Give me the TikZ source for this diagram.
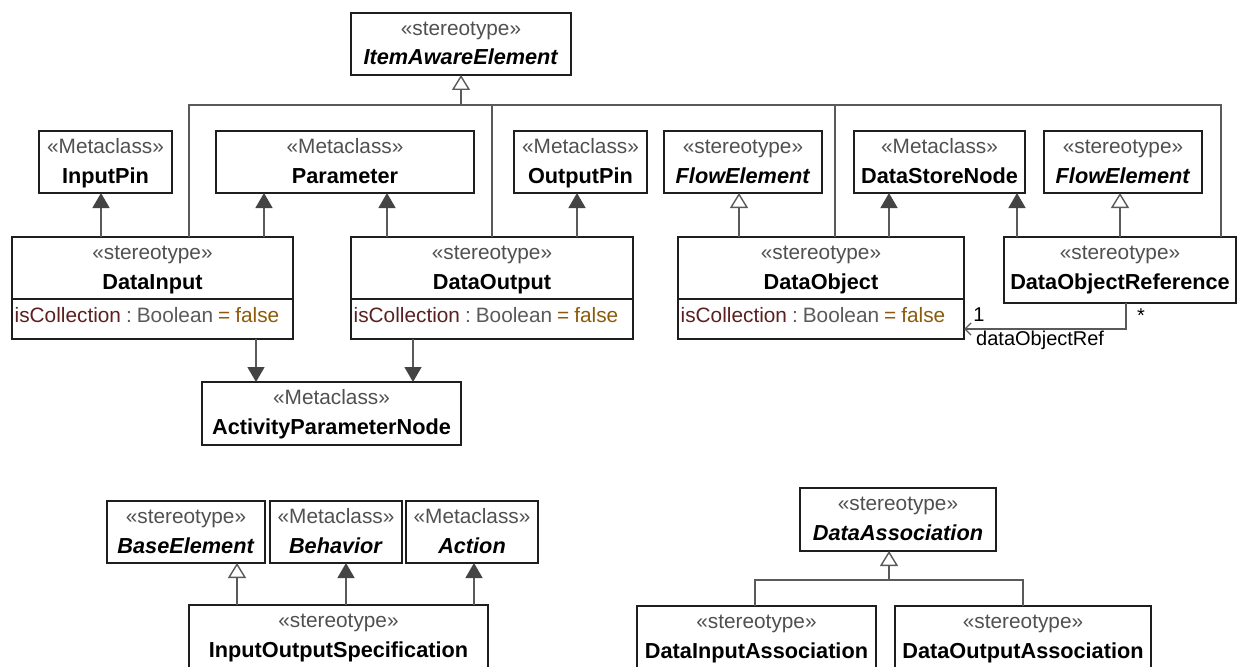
\documentclass[tikz,border=0pt]{standalone}
\usepackage{fontspec}
\setmainfont{Liberation Sans}
\usetikzlibrary{arrows.meta}

\definecolor{stgray}{RGB}{80,80,80}
\definecolor{linegray}{RGB}{90,90,90}
\definecolor{headgray}{RGB}{68,68,68}
\definecolor{boxline}{RGB}{30,30,30}
\definecolor{attrname}{RGB}{92,32,32}
\definecolor{attrtype}{RGB}{90,90,90}
\definecolor{attrval}{RGB}{140,90,10}

\tikzset{
  clsbox/.style={draw=boxline, line width=1.5pt, fill=white, inner sep=0pt, outer sep=0pt},
  stereo/.style={font=\fontsize{20.8}{25}\selectfont, text=stgray, anchor=base, inner sep=0pt},
  cname/.style={font=\fontsize{21.7}{26}\selectfont\bfseries, anchor=base, inner sep=0pt},
  attr/.style={font=\fontsize{20.8}{25}\selectfont, anchor=base west, inner sep=0pt},
  lbl/.style={font=\fontsize{20}{24}\selectfont, inner sep=0pt},
  conn/.style={draw=linegray, line width=1.4pt},
  ext/.style={conn, -{Triangle[width=17pt,length=15pt,fill=headgray,color=headgray]}},
  gen/.style={conn, -{Triangle[open,width=18pt,length=15pt,fill=white]}},
  assoc/.style={conn, -{Straight Barb[length=6pt,width=12pt]}},
}

% class box: name, x1, y1, x2, y2, stereotype, class name
\newcommand\umlclass[7]{%
  \node[clsbox, minimum width={(#4)-(#2)}, minimum height={(#5)-(#3)}]
    (#1) at ({((#2)+(#4))/2},{((#3)+(#5))/2}) {};
  \node[stereo] (#1-st) at ([yshift=-22.5pt]#1.north) {«#6»};
  \node[cname] (#1-nm) at ([yshift=-52pt]#1.north) {#7};}

% attribute compartment below the name part
\newcommand\umlattr[1]{%
  \draw[boxline, line width=1.5pt] ([yshift=-62pt]#1.north west) -- ([yshift=-62pt]#1.north east);
  \node[attr] (#1-at) at ([xshift=2.5pt,yshift=-85pt]#1.north west)
    {\textcolor{attrname}{isCollection}\hspace{5pt}\textcolor{attrtype}{:\hspace{5pt}Boolean}\hspace{5pt}\textcolor{attrval}{=\hspace{5pt}false}};}

\begin{document}
\begin{tikzpicture}[x=1pt, y=-1pt]
\useasboundingbox (0,0) rectangle (1238,666);
\fill[white] (0,0) rectangle (1238,666);
\clip (0,0) rectangle (1238,666);

% ---- classes ----
\umlclass{iae}{351}{13}{571}{75}{stereotype}{\textit{ItemAwareElement}}
\umlclass{ip}{39}{131}{172}{193}{Metaclass}{InputPin}
\umlclass{par}{216}{131}{474}{193}{Metaclass}{Parameter}
\umlclass{op}{514}{131}{647}{193}{Metaclass}{OutputPin}
\umlclass{fea}{664}{131}{822}{193}{stereotype}{\textit{FlowElement}}
\umlclass{dsn}{854}{131}{1025}{193}{Metaclass}{DataStoreNode}
\umlclass{feb}{1044}{131}{1202}{193}{stereotype}{\textit{FlowElement}}

\umlclass{din}{12}{237}{293}{339}{stereotype}{DataInput}
\umlattr{din}
\umlclass{dout}{351}{237}{633}{339}{stereotype}{DataOutput}
\umlattr{dout}
\umlclass{dobj}{678}{237}{964}{339}{stereotype}{DataObject}
\umlattr{dobj}
\umlclass{dref}{1004}{237}{1236}{303}{stereotype}{DataObjectReference}

\umlclass{apn}{202}{382}{461}{445}{Metaclass}{ActivityParameterNode}

\umlclass{be}{107}{501}{265}{563}{stereotype}{\textit{BaseElement}}
\umlclass{beh}{270}{501}{402}{563}{Metaclass}{\textit{Behavior}}
\umlclass{act}{406}{501}{538}{563}{Metaclass}{\textit{Action}}
\umlclass{ios}{189}{605}{488}{700}{stereotype}{InputOutputSpecification}

\umlclass{da}{800}{488}{996}{551}{stereotype}{\textit{DataAssociation}}
\umlclass{dia}{637}{606}{876}{700}{stereotype}{DataInputAssociation}
\umlclass{doa}{895}{606}{1151}{700}{stereotype}{DataOutputAssociation}

% ---- generalization tree to ItemAwareElement ----
\coordinate (gj) at (iae.south |- 0,105);
\draw[conn] (din.north -| 189,0) |- (gj);
\draw[conn] (dout.north -| 492,0) |- (gj);
\draw[conn] (dobj.north -| 835,0) |- (gj);
\draw[conn] (dref.north -| 1221,0) |- (gj);
\draw[gen] (gj) -- (iae.south);

% ---- extensions and generalizations, upper part ----
\draw[ext] (din.north -| 101,0) -- (ip.south -| 101,0);
\draw[ext] (din.north -| 264,0) -- (par.south -| 264,0);
\draw[ext] (dout.north -| 387,0) -- (par.south -| 387,0);
\draw[ext] (dout.north -| 577,0) -- (op.south -| 577,0);
\draw[gen] (dobj.north -| 739,0) -- (fea.south -| 739,0);
\draw[ext] (dobj.north -| 889,0) -- (dsn.south -| 889,0);
\draw[ext] (dref.north -| 1017,0) -- (dsn.south -| 1017,0);
\draw[gen] (dref.north -| 1120,0) -- (feb.south -| 1120,0);
\draw[ext] (din.south -| 256,0) -- (apn.north -| 256,0);
\draw[ext] (dout.south -| 413,0) -- (apn.north -| 413,0);

% ---- association dataObjectRef ----
\draw[assoc] (dref.south -| 1126,0) |- (dobj.east |- 0,329);
\node[lbl, anchor=base] (m1) at (979,321) {1};
\node[lbl, anchor=base] (mstar) at (1141,322) {*};
\node[lbl, anchor=base west] (role) at (976,345) {dataObjectRef};

% ---- InputOutputSpecification ----
\draw[gen] (ios.north -| 237,0) -- (be.south -| 237,0);
\draw[ext] (ios.north -| 346,0) -- (beh.south -| 346,0);
\draw[ext] (ios.north -| 474,0) -- (act.south -| 474,0);

% ---- DataAssociation tree ----
\coordinate (dj) at (889,580);
\draw[conn] (dia.north -| 755,0) |- (dj);
\draw[conn] (doa.north -| 1023,0) |- (dj);
\draw[gen] (dj) -- (da.south -| dj);
\end{tikzpicture}
\end{document}
